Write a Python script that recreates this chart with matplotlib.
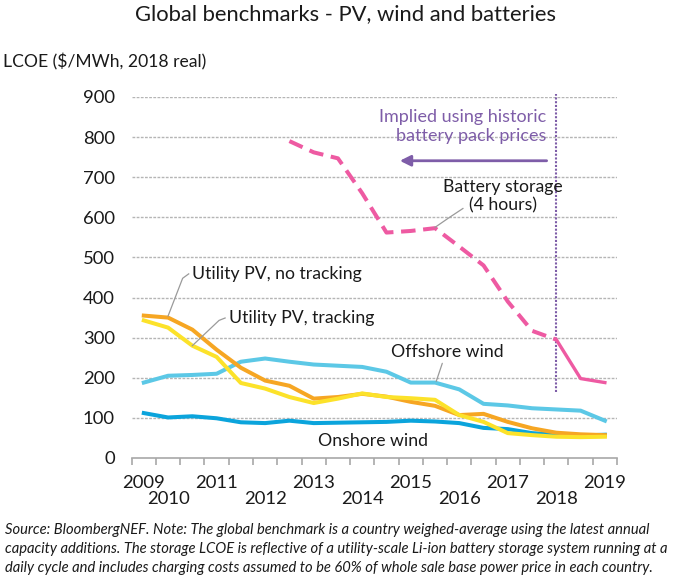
import numpy as np
import matplotlib
matplotlib.use("Agg")
import matplotlib.pyplot as plt
import matplotlib.transforms as mtransforms

plt.rcParams['font.family'] = ['Lato', 'DejaVu Sans']

# half-year periods, only some carry a year label (as in the source chart)
periods = ['2009', '2010', '', '2011', '', '2012', '', '2013', '', '2014',
           '', '2015', '', '2016', '', '2017', '', '2018', '', '2019']

pv_fixed = [355, 350, 320, 270, 225, 193, 180, 148, 152, 160,
            153, 140, 130, 107, 110, 90, 74, 63, 59, 57]
pv_tracking = [343, 325, 280, 252, 187, 173, 152, 137, 148, 161,
               152, 149, 145, 107, 90, 62, 57, 53, 52, 53]
offshore = [188, 205, 207, 210, 240, 248, 240, 233, 230, 227,
            215, 188, 188, 171, 135, 131, 124, 121, 118, 93]
onshore = [112, 101, 104, 99, 89, 87, 93, 87, 88, 89,
           90, 93, 91, 87, 75, 72, 62, 58, 56, 58]
# battery storage starts in 2H 2012; values up to 2018 are implied
battery = [None] * 6 + [790, 762, 747, 660, 562, 566, 573, 527, 480,
                        390, 317, 295, 198, 188]
battery_hist_end = 17

c_orange = '#F6A623'
c_yellow = '#FCE22A'
c_offshore = '#5CC8E6'
c_onshore = '#0BA4DC'
c_pink = '#EE5AA2'
c_purple = '#7E5DA8'
c_grey = '#9A9A9A'
c_text = '#1A1A1A'

fig = plt.figure(figsize=(6.77, 5.79), dpi=100)
ax = fig.add_axes([0.1945, 0.209, 0.9114 - 0.1945, 0.8325 - 0.209])

x = np.arange(len(periods))
lw = 2.9
ax.plot(x, offshore, color=c_offshore, lw=lw, zorder=3)
ax.plot(x, onshore, color=c_onshore, lw=lw, zorder=3)
ax.plot(x, pv_fixed, color=c_orange, lw=lw, zorder=4)
ax.plot(x, pv_tracking, color=c_yellow, lw=lw, zorder=5)

bx = np.array([i for i, v in enumerate(battery) if v is not None])
by = np.array([v for v in battery if v is not None], dtype=float)
hist = bx <= battery_hist_end
ax.plot(bx[hist], by[hist], color=c_pink, lw=lw, ls=(0, (3.6, 1.9)), zorder=5)
ax.plot(bx[bx >= battery_hist_end], by[bx >= battery_hist_end],
        color=c_pink, lw=lw - 0.5, zorder=5)

ax.set_xlim(-0.5, len(periods) - 0.5)
ax.set_ylim(0, 900)
ax.set_yticks(np.arange(0, 1000, 100))
for v in range(100, 1000, 100):
    ax.axhline(v, color='#B5B5B5', lw=1.0, ls=(0, (2, 1)), zorder=1)

for s in ['top', 'right', 'left']:
    ax.spines[s].set_visible(False)
ax.spines['bottom'].set_color('#A8A8A8')
ax.spines['bottom'].set_linewidth(1.2)

ax.tick_params(axis='y', length=0, labelsize=13.3, pad=12, colors=c_text)
ax.set_xticks(np.arange(-0.5, len(periods), 1.0))
ax.set_xticklabels([])
ax.tick_params(axis='x', length=5, width=1.2, color='#A8A8A8')

# staggered year labels
trans = mtransforms.blended_transform_factory(ax.transData, ax.transAxes)
row = 0
for i, lab in enumerate(periods):
    if not lab:
        continue
    yy = -0.07 if row == 0 else -0.113
    ax.text(i, yy, lab, transform=trans, ha='center', va='center',
            fontsize=13.3, color=c_text)
    row = 1 - row

# 2018 divider and implied-price arrow
ax.axvline(battery_hist_end, ymin=165 / 900, ymax=1.008, color=c_purple,
           lw=1.5, ls=(0, (1, 0.8)), clip_on=False, zorder=2)
ax.annotate('', xy=(10.55, 741), xytext=(16.6, 741),
            arrowprops=dict(arrowstyle='-|>', color=c_purple, lw=2,
                            mutation_scale=16, shrinkA=0, shrinkB=0))
ax.text(16.6, 826, 'Implied using historic\nbattery pack prices',
        ha='right', va='center', fontsize=13, color=c_purple)

lead = dict(arrowstyle='-', color=c_grey, lw=0.9, shrinkA=0, shrinkB=0)
ax.text(2.0, 459, 'Utility PV, no tracking', ha='left', va='center',
        fontsize=12.7, color=c_text)
ax.plot([1.85, 1.6, 1.0], [459, 448, 354], color=c_grey, lw=0.9, zorder=6)
ax.text(3.5, 349, 'Utility PV, tracking', ha='left', va='center',
        fontsize=12.7, color=c_text)
ax.plot([3.35, 3.1, 2.0], [349, 343, 280], color=c_grey, lw=0.9, zorder=6)
ax.text(12.5, 265, 'Offshore wind', ha='center', va='center',
        fontsize=12.7, color=c_text)
ax.annotate('', xy=(12.05, 191), xytext=(12.3, 236), arrowprops=lead)
ax.text(14.8, 653, 'Battery storage\n(4 hours)', ha='center', va='center',
        fontsize=12.7, color=c_text)
ax.plot([13.15, 12.6, 12.0], [622, 600, 575], color=c_grey, lw=0.9, zorder=6)
ax.text(9.45, 42, 'Onshore wind', ha='center', va='center',
        fontsize=12.7, color=c_text)

fig.text(0.511, 0.975, 'Global benchmarks - PV, wind and batteries',
         ha='center', va='center', fontsize=15.8, color=c_text)
fig.text(0.004, 0.893, 'LCOE ($/MWh, 2018 real)', ha='left', va='center',
         fontsize=12.6, color=c_text)
note = ('Source: BloombergNEF. Note: The global benchmark is a country weighed-average using the latest annual\n'
        'capacity additions. The storage LCOE is reflective of a utility-scale Li-ion battery storage system running at a\n'
        'daily cycle and includes charging costs assumed to be 60% of whole sale base power price in each country.')
fig.text(0.007, (579 - 549) / 579, note, ha='left', va='center', fontsize=10.6,
         style='italic', color=c_text, linespacing=1.42)

fig.savefig('out.png', dpi=100)
